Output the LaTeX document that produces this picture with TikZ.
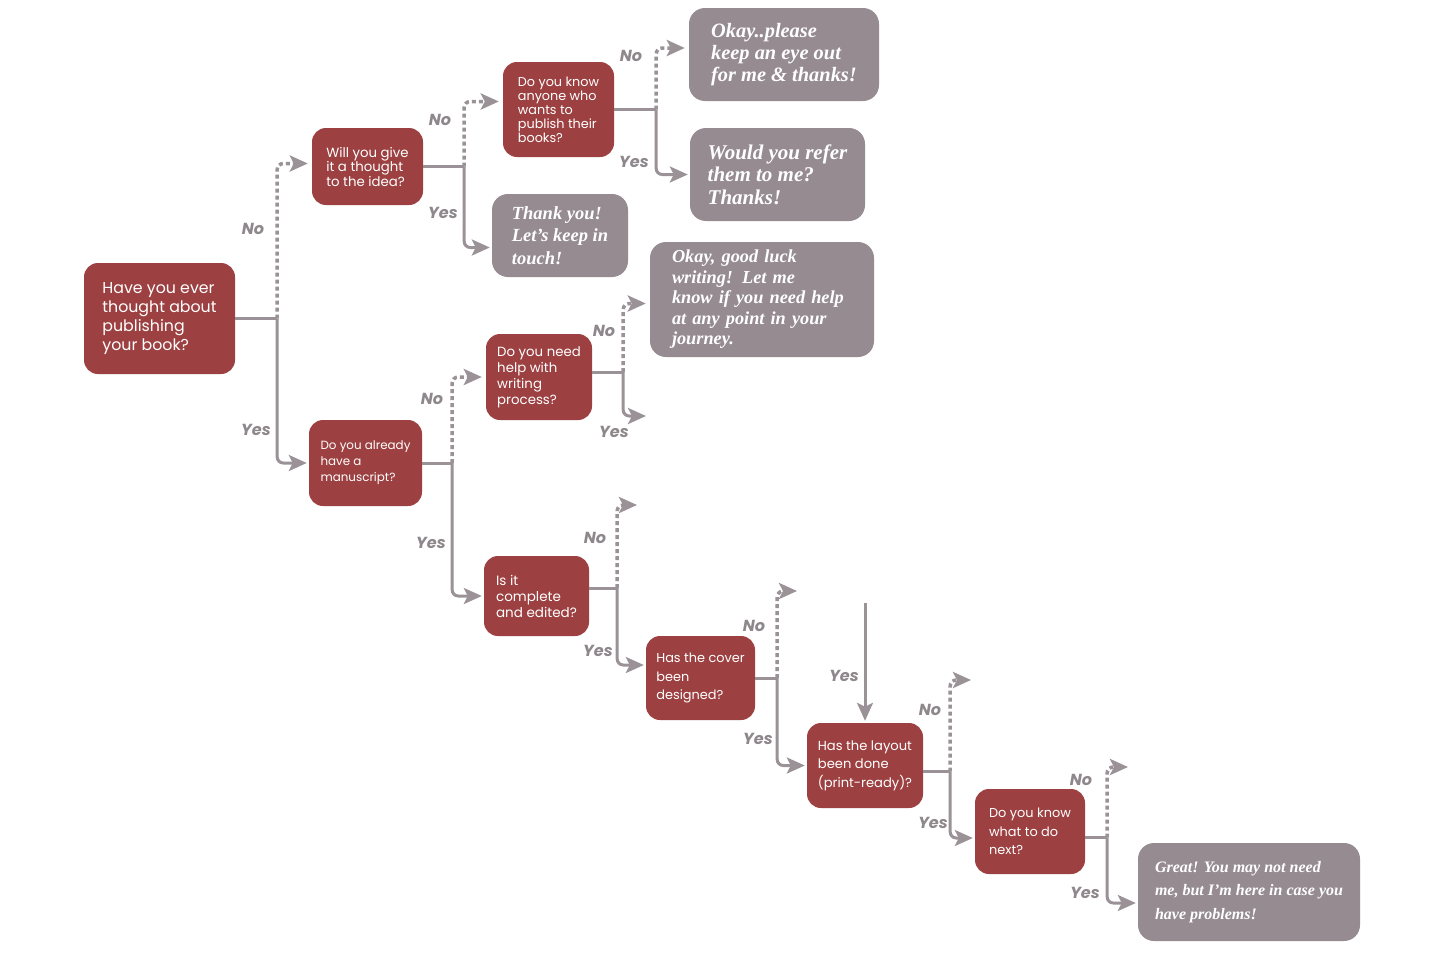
\documentclass[tikz,border=0pt]{standalone}
\usepackage{fontspec}
\newfontfamily\popfont{Poppins}
\newfontfamily\notefont{Liberation Serif}
\usetikzlibrary{arrows.meta}
\usetikzlibrary{positioning}
\definecolor{boxred}{HTML}{9C4041}
\definecolor{boxgray}{HTML}{958B91}
\definecolor{linkgray}{HTML}{9B9297}
\definecolor{lblgray}{HTML}{8E878B}
\tikzset{
    question/.style={
        rectangle,
        rounded corners=14pt,
        fill=boxred,
        text=white,
        align=left,
        inner sep=0pt
    },
    answer/.style={
        rectangle,
        rounded corners=16pt,
        fill=boxgray,
        text=white,
        align=left,
        inner sep=0pt
    },
    boxsize/.style 2 args={minimum width=#1, minimum height=#2},
    qtext/.style 2 args={font=\popfont\fontsize{#1}{#2}\selectfont},
    atext/.style 2 args={font=\notefont\bfseries\itshape\fontsize{#1}{#2}\selectfont},
    stem/.style={
        draw=linkgray,
        line width=3pt,
        rounded corners=6pt
    },
    yeslink/.style={
        stem,
        -{Stealth[length=18pt,width=16pt,inset=4pt]},
        shorten >=2pt
    },
    nolink/.style={
        draw=linkgray,
        line width=3.5pt,
        dash pattern=on 4pt off 3pt,
        rounded corners=6pt,
        -{Stealth[length=18pt,width=16pt,inset=4pt]},
        shorten >=4pt
    },
    branchlbl/.style={
        text=lblgray,
        font=\popfont\bfseries\itshape\fontsize{16}{16}\selectfont
    }
}

\begin{document}
\begin{tikzpicture}[x=1pt, y=-1pt]
    % Canvas
    \fill[white] (0,0) rectangle (1440,961);

    % Questions
    \node[question, boxsize={151pt}{111pt}, qtext={15.8}{19}] (q1) at (159.5,318.5)
        {Have you ever\\thought about\\publishing\\your book?};
    \node[question, boxsize={111pt}{77pt}, qtext={13.3}{14.5}] (q2) at (367.5,166.5)
        {Will you give\\it a thought\\to the idea?};
    \node[question, boxsize={111pt}{95pt}, qtext={12.8}{14}] (q3) at (558.5,109.5)
        {Do you know\\anyone who\\wants to\\publish their\\books?};
    \node[question, boxsize={113pt}{86pt}, qtext={11.9}{16}] (q4) at (365.5,463)
        {Do you already\\have a\\manuscript?};
    \node[question, boxsize={106pt}{86pt}, qtext={13.3}{16}] (q5) at (539,377)
        {Do you need\\help with\\writing\\process?};
    \node[question, boxsize={105pt}{80pt}, qtext={13.5}{16}] (q6) at (536.5,596)
        {Is it\\complete\\and edited?};
    \node[question, boxsize={109pt}{84pt}, qtext={12.9}{18.5}] (q7) at (700.5,678)
        {Has the cover\\been\\designed?};
    \node[question, boxsize={116pt}{85pt}, qtext={13.1}{18.5}] (q8) at (865,765.5)
        {Has the layout\\been done\\(print-ready)?};
    \node[question, boxsize={110pt}{85pt}, qtext={12.9}{18.5}] (q9) at (1030,831.5)
        {Do you know\\what to do\\next?};

    % Answers
    \node[answer, boxsize={190pt}{93pt}, atext={20.4}{22}] (a1) at (784,54.5)
        {Okay..please\\keep an eye out\\for me \& thanks!};
    \node[answer, boxsize={175pt}{93pt}, atext={21}{22.5}] (a2) at (777.5,174.5)
        {Would you refer\\them to me?\\Thanks!};
    \node[answer, boxsize={136pt}{83pt}, atext={18.5}{22.5}] (a3) at (560,235.5)
        {Thank you!\\Let’s keep in\\touch!};
    \node[answer, boxsize={224pt}{115pt}, atext={18.3}{20.5},
          text width=180pt, inner xsep=22pt] (a4) at (762,299.5)
        {Okay, good luck\\writing! Let me\\know if you need help\\at any point in your\\journey.};
    \node[answer, boxsize={222pt}{98pt}, atext={16}{23.5}] (a5) at (1249,892)
        {Great! You may not need\\me, but I’m here in case you\\have problems!};

    % Stems to the branch points
    \draw[stem] (q1.east) -- ++(42,0) coordinate (s1);
    \draw[stem] (q2.east) -- ++(41,0) coordinate (s2);
    \draw[stem] (q3.east) -- ++(42,0) coordinate (s3);
    \draw[stem] (q4.east) -- ++(30,0) coordinate (s4);
    \draw[stem] ([yshift=5pt]q5.east) -- ++(31,0) coordinate (s5);
    \draw[stem] ([yshift=8pt]q6.east) -- ++(28,0) coordinate (s6);
    \draw[stem] (q7.east) -- ++(22,0) coordinate (s7);
    \draw[stem] ([yshift=-6pt]q8.east) -- ++(27,0) coordinate (s8);
    \draw[stem] ([yshift=-6pt]q9.east) -- ++(22,0) coordinate (s9);

    % Loose ends
    \coordinate (q5yes) at (648,416);
    \coordinate (q6no) at (641,505);
    \coordinate (q7no) at (801,591);
    \coordinate (q8no) at (975,680);
    \coordinate (q9no) at (1132,767);
    \coordinate (q8top) at (865,603);

    % No branches
    \draw[nolink] (s1) |- ([yshift=3pt]q2.west);
    \draw[nolink] (s2) |- ([yshift=8pt]q3.west);
    \draw[nolink] (s3) |- ([yshift=6.5pt]a1.west);
    \draw[nolink] (s4) |- (q5.west);
    \draw[nolink] (s5) |- ([yshift=-4pt]a4.west);
    \draw[nolink] (s6) |- (q6no);
    \draw[nolink] (s7) |- (q7no);
    \draw[nolink] (s8) |- (q8no);
    \draw[nolink] (s9) |- (q9no);

    % Yes branches
    \draw[yeslink] (s1) |- (q4.west);
    \draw[yeslink] (s2) |- ([yshift=-12pt]a3.west);
    \draw[yeslink] (s3) |- (a2.west);
    \draw[yeslink] (s4) |- (q6.west);
    \draw[yeslink] (s5) |- (q5yes);
    \draw[yeslink] (s6) |- ([yshift=13pt]q7.west);
    \draw[yeslink] (s7) |- (q8.west);
    \draw[yeslink] (s8) |- ([yshift=-6.5pt]q9.west);
    \draw[yeslink] (s9) |- ([yshift=-11pt]a5.west);
    \draw[yeslink] (q8top) -- (q8.north);

    % Branch labels
    \node[branchlbl] (no1) at (253,229) {No};
    \node[branchlbl] (yes1) at (256,430) {Yes};
    \node[branchlbl] (no2) at (440,120) {No};
    \node[branchlbl] (yes2) at (443,213) {Yes};
    \node[branchlbl] (no3) at (631,56) {No};
    \node[branchlbl] (yes3) at (634,162) {Yes};
    \node[branchlbl] (no4) at (432,399) {No};
    \node[branchlbl] (yes4) at (431,543) {Yes};
    \node[branchlbl] (no5) at (604,331) {No};
    \node[branchlbl] (yes5) at (614,432) {Yes};
    \node[branchlbl] (no6) at (595,538) {No};
    \node[branchlbl] (yes6) at (598,651) {Yes};
    \node[branchlbl] (no7) at (754,626) {No};
    \node[branchlbl] (yes7) at (758,739) {Yes};
    \node[branchlbl] (yestop) at (844,676) {Yes};
    \node[branchlbl] (no8) at (930,710) {No};
    \node[branchlbl] (yes8) at (933,823) {Yes};
    \node[branchlbl] (no9) at (1081,780) {No};
    \node[branchlbl] (yes9) at (1085,893) {Yes};
\end{tikzpicture}
\end{document}
